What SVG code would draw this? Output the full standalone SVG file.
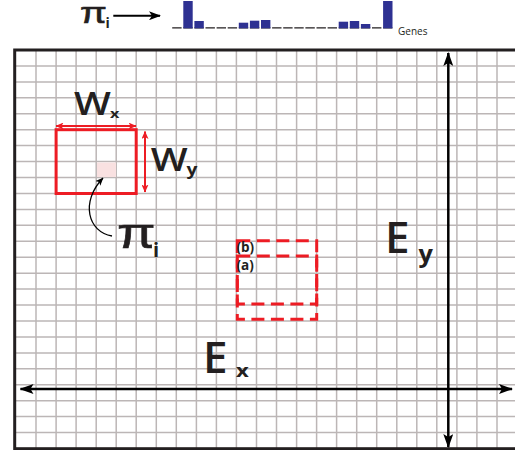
<svg xmlns="http://www.w3.org/2000/svg" width="515" height="450" viewBox="0 0 515 450">
<style>
  .grid{stroke:#bcb6b6;stroke-width:1.5;fill:none}
  .frame{stroke:#231f20;stroke-width:3;fill:none}
  .big{font-family:"Open Sans","Liberation Sans",sans-serif;font-weight:600;fill:#231f20}
  .sub{font-family:"Open Sans","Liberation Sans",sans-serif;font-weight:bold;fill:#231f20}
  .pi{font-family:"Liberation Sans","DejaVu Sans",sans-serif;fill:#231f20;stroke:#231f20;stroke-width:0.6}
  .bar{fill:#2e3192}
  .red{stroke:#ed1c24;fill:none}
  .blk{stroke:#000;fill:none}
  .lbl{font-family:"Open Sans","Liberation Sans",sans-serif;font-weight:bold;font-size:13.5px;fill:#231f20}
</style>
<defs>
  <marker id="bh" viewBox="0 0 14 10" refX="13" refY="5" markerWidth="14" markerHeight="10" markerUnits="userSpaceOnUse" orient="auto-start-reverse">
    <path d="M0,0 L14,5 L0,10 L3,5 z" fill="#000"/>
  </marker>
  <marker id="th" viewBox="0 0 12 9" refX="11" refY="4.5" markerWidth="12" markerHeight="9" markerUnits="userSpaceOnUse" orient="auto">
    <path d="M0,0 L12,4.5 L0,9 L3,4.5 z" fill="#000"/>
  </marker>
  <marker id="rh" viewBox="0 0 8 7" refX="7.5" refY="3.5" markerWidth="8" markerHeight="7" markerUnits="userSpaceOnUse" orient="auto-start-reverse">
    <path d="M0,0 L8,3.5 L0,7 L2,3.5 z" fill="#ed1c24"/>
  </marker>
  <marker id="ch" viewBox="0 0 8 7" refX="7.5" refY="3.5" markerWidth="8" markerHeight="7" markerUnits="userSpaceOnUse" orient="auto">
    <path d="M0,0 L8,3.5 L0,7 L2,3.5 z" fill="#000"/>
  </marker>
</defs>
<rect width="515" height="450" fill="#fff"/>

<g id="histogram">
  <line x1="172.2" y1="27.8" x2="392.4" y2="27.8" stroke="#231f20" stroke-width="1.2" stroke-dasharray="9.4 1.7"/>
  <rect class="bar" x="183.3" y="1" width="9.4" height="27.3"/>
  <rect class="bar" x="194.4" y="21" width="9.4" height="7.3"/>
  <rect class="bar" x="238.8" y="22.7" width="9.4" height="5.6"/>
  <rect class="bar" x="249.9" y="20.7" width="9.4" height="7.6"/>
  <rect class="bar" x="261" y="20" width="9.4" height="8.3"/>
  <rect class="bar" x="338.7" y="21.7" width="9.4" height="6.6"/>
  <rect class="bar" x="349.8" y="21" width="9.4" height="7.3"/>
  <rect class="bar" x="360.9" y="24" width="9.4" height="4.3"/>
  <rect class="bar" x="383.1" y="1" width="9.4" height="27.3"/>
  <text x="398" y="35" font-family="Open Sans, Liberation Sans, sans-serif" font-size="10" fill="#231f20">Genes</text>
</g>

<g id="pi-top">
  <text class="pi" transform="translate(80,23.3) scale(1.3,1)" font-size="30">π</text>
  <text class="sub" x="105.5" y="28.3" font-size="14">i</text>
</g>

<g id="grid">
  <path class="grid" d="M36,50V448.7M56.1,50V448.7M76.1,50V448.7M96.2,50V448.7M116.2,50V448.7M136.2,50V448.7M156.3,50V448.7M176.3,50V448.7M196.4,50V448.7M216.4,50V448.7M236.4,50V448.7M256.5,50V448.7M276.5,50V448.7M296.6,50V448.7M316.6,50V448.7M336.6,50V448.7M356.7,50V448.7M376.7,50V448.7M396.8,50V448.7M416.8,50V448.7M436.8,50V448.7M456.9,50V448.7M476.9,50V448.7M497,50V448.7
  M14.7,65.9H517M14.7,81.9H517M14.7,97.8H517M14.7,113.8H517M14.7,129.7H517M14.7,145.6H517M14.7,161.6H517M14.7,177.5H517M14.7,193.5H517M14.7,209.4H517M14.7,225.3H517M14.7,241.3H517M14.7,257.2H517M14.7,273.2H517M14.7,289.1H517M14.7,305H517M14.7,321H517M14.7,336.9H517M14.7,352.9H517M14.7,368.8H517M14.7,384.7H517M14.7,400.7H517M14.7,416.6H517M14.7,432.6H517"/>
  <rect class="frame" x="14.7" y="50" width="503" height="398.7"/>
</g>

<g id="window">
  <rect x="97" y="162.5" width="19" height="14.5" fill="#f9e1e1"/>
  <rect class="red" x="56.1" y="129.7" width="80.1" height="63.8" stroke-width="3"/>
</g>

<g id="wx">
  <text class="big" transform="translate(74,115) scale(1.22,1)" font-size="32">W</text>
  <text class="sub" transform="translate(110,117.7) scale(1.35,1)" font-size="12">x</text>
</g>
<g id="wy">
  <text class="big" transform="translate(150.7,171) scale(1.22,1)" font-size="32">W</text>
  <text class="sub" transform="translate(186.5,175) scale(1.2,1)" font-size="16">y</text>
</g>
<g id="pi-cell">
  <text class="pi" transform="translate(117,248.3) scale(1.3,1)" font-size="43">π</text>
  <text class="sub" x="153" y="256.7" font-size="20">i</text>
</g>

<g id="window-b">
  <rect class="red" x="237.3" y="240.7" width="79.4" height="63.3" stroke-width="3" stroke-dasharray="13 6.5"/>
  <text class="lbl" x="236.5" y="252.3">(b)</text>
</g>
<g id="window-a">
  <rect class="red" x="237.3" y="256" width="79.4" height="63.3" stroke-width="3" stroke-dasharray="13 6.5"/>
  <text class="lbl" x="236.5" y="269.6">(a)</text>
</g>

<g id="ex">
  <text class="big" x="203" y="373.3" font-size="44">E</text>
  <text class="sub" transform="translate(236,376.7) scale(1.3,1)" font-size="17">x</text>
</g>
<g id="ey">
  <text class="big" x="385" y="253.3" font-size="44">E</text>
  <text class="sub" transform="translate(418.5,262) scale(1.1,1)" font-size="23">y</text>
</g>

<g id="connectors">
  <line class="blk" x1="113.3" y1="15.7" x2="160" y2="15.7" stroke-width="2" marker-end="url(#th)"/>
  <line class="red" x1="56" y1="126" x2="136" y2="126" stroke-width="2" marker-start="url(#rh)" marker-end="url(#rh)"/>
  <line class="red" x1="145" y1="131.5" x2="145" y2="192" stroke-width="2" marker-start="url(#rh)" marker-end="url(#rh)"/>
  <path class="blk" d="M112,236 C88,232 80,202 103,178" stroke-width="1.3" marker-end="url(#ch)"/>
  <line class="blk" x1="20.5" y1="389" x2="512" y2="389" stroke-width="2.5" marker-start="url(#bh)" marker-end="url(#bh)"/>
  <line class="blk" x1="448.3" y1="53" x2="448.3" y2="447" stroke-width="2.5" marker-start="url(#bh)" marker-end="url(#bh)"/>
</g>
</svg>
